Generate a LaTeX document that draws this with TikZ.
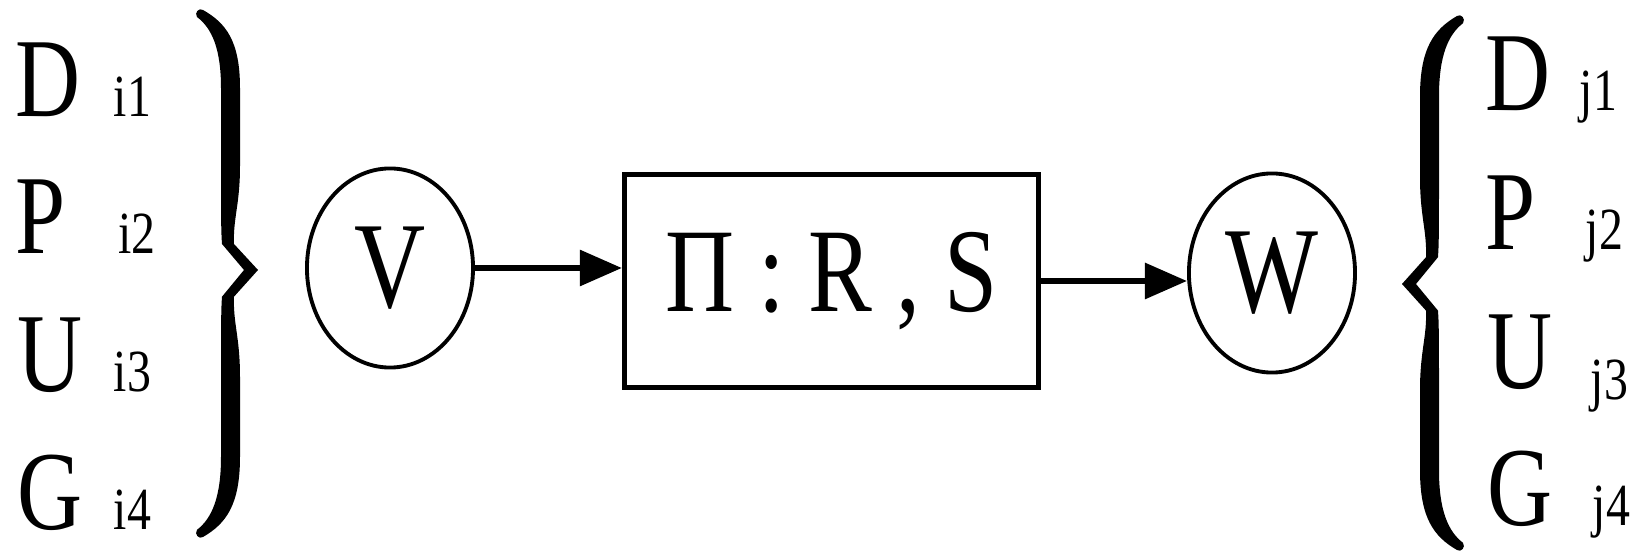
\documentclass[tikz,border=0pt]{standalone}
\usepackage{fontspec}
\setmainfont{Liberation Serif}[FakeStretch=0.8]
\usetikzlibrary{arrows.meta,shapes.geometric}
% one arm of a brace: end at y=0, tip at y=1
\newcommand{\barm}{%
  \fill (203,0) .. controls (226,0.05) and (240,0.12) .. (240,0.3) -- (240,0.6)
    .. controls (240,0.75) and (233,0.8) .. (234,0.9) -- (258,1) -- (244,1) -- (222,0.9)
    .. controls (221,0.85) and (221,0.78) .. (221,0.6) -- (221,0.3)
    .. controls (221,0.15) and (212,0.07) .. (197,0.027)
    .. controls (194,0.01) and (199,-0.01) .. (203,0) -- cycle;}
\newcommand{\pbrace}[5]{%
  \pgfmathsetmacro{\bu}{#4-#3}\pgfmathsetmacro{\bd}{#4-#5}%
  \begin{scope}[shift={(#1,#3)},xscale=#2,yscale=\bu]\barm\end{scope}
  \begin{scope}[shift={(#1,#5)},xscale=#2,yscale=\bd]\barm\end{scope}}
\newcommand{\lvar}[5]{%
  \node[bigv] (#1) at (#4) {#2};
  \node[subv] (#1s) at (#5) {#3};}
\begin{document}
\begin{tikzpicture}[x=0.01cm,y=-0.01cm,
    bigv/.style={inner sep=0,anchor=base west,font=\fontsize{32}{36}\selectfont},
    subv/.style={inner sep=0,anchor=base west,font=\fontsize{17}{20}\selectfont},
    oval/.style={ellipse,draw,line width=1.1pt,inner sep=0,minimum width=1.66cm,
      minimum height=1.99cm,font=\fontsize{35}{40}\selectfont},
    rbox/.style={draw,line width=1.4pt,minimum width=4.14cm,minimum height=2.13cm,
      inner sep=0,font=\fontsize{34}{38}\selectfont},
    arr/.style={line width=1.7pt,-{Triangle[length=0.42cm,width=0.35cm]}}]
  \useasboundingbox (0,0) rectangle (1650,558);
  % left set
  \lvar{dl}{D}{i1}{15,117}{113,117}
  \lvar{pl}{P}{i2}{15,254}{118,254}
  \lvar{ul}{U}{i3}{17,392}{113,392}
  \lvar{gl}{G}{i4}{17,530}{113,530}
  \pbrace{0}{1}{10}{270}{537}
  % middle
  \node[oval] (V) at (390,268) {V};
  \node[rbox] (pi) at (831.5,281) {Π : R , S\hspace{0.54cm}};
  \node[oval] (W) at (1272,273) {W};
  \draw[arr] (V.east) -- (V.east -| pi.west);
  \draw[arr] (pi.east) -- (pi.east -| W.west);
  % right set
  \pbrace{1660}{-1}{16}{284}{550}
  \lvar{dr}{D}{j1}{1485,111}{1579,111}
  \lvar{pr}{P}{j2}{1485,250}{1585,250}
  \lvar{ur}{U}{j3}{1487,389}{1590,400}
  \lvar{gr}{G}{j4}{1487,526}{1592,526}
\end{tikzpicture}
\end{document}
